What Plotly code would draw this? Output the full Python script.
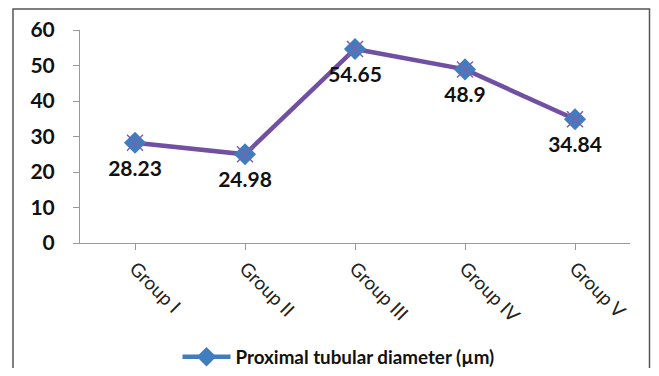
import plotly.graph_objects as go

categories = ["Group I", "Group II", "Group III", "Group IV", "Group V"]
values = [28.23, 24.98, 54.65, 48.9, 34.84]
value_labels = ["28.23", "24.98", "54.65", "48.9", "34.84"]
y_ticks = [0, 10, 20, 30, 40, 50, 60]
series_name = "Proximal tubular diameter (µm)"

xi = list(range(len(categories)))

fig = go.Figure()
# line
fig.add_trace(go.Scatter(
    x=xi, y=values, mode="lines",
    line=dict(color="#7150A3", width=4.5),
    showlegend=False, hoverinfo="skip",
))
# data labels (on an invisible wide marker to push them below the points)
fig.add_trace(go.Scatter(
    x=xi, y=values, mode="markers+text",
    marker=dict(symbol="circle", size=26, color="rgba(0,0,0,0)"),
    text=value_labels, textposition="bottom center",
    textfont=dict(family="Lato", size=21, color="#111111", weight="bold"),
    showlegend=False, hoverinfo="skip",
))
# blue diamond markers
fig.add_trace(go.Scatter(
    x=xi, y=values, mode="markers",
    marker=dict(symbol="diamond", size=17, color="#3F7DC0"),
    showlegend=False,
))
# purple x overlay
fig.add_trace(go.Scatter(
    x=xi, y=values, mode="markers",
    marker=dict(symbol="x-thin", size=16, line=dict(color="#8060A8", width=1.5)),
    showlegend=False, hoverinfo="skip",
))
# legend entry
fig.add_trace(go.Scatter(
    x=[None], y=[None], mode="lines+markers", name=series_name,
    line=dict(color="#3F7DC0", width=4.5),
    marker=dict(symbol="diamond", size=15, color="#3F7DC0"),
))

OFF = 8  # page body margin
W, H = 659 - 2 * OFF, 376 - 2 * OFF
L, T = 80 - OFF, 30 - OFF
pw, ph = 550, 213
R = W - L - pw
B = H - T - ph

fig.add_shape(type="rect", xref="paper", yref="paper",
              x0=(13 - OFF - L) / pw, x1=(W - 1.5 - L) / pw,
              y0=-(H + 10 - T - ph) / ph, y1=(T + ph - 1) / ph,
              line=dict(color="#555555", width=1.5), layer="below")

fig.update_layout(
    width=W, height=H,
    margin=dict(l=L, r=R, t=T, b=B, autoexpand=False),
    paper_bgcolor="white", plot_bgcolor="white",
    legend=dict(orientation="h", x=0.47, xanchor="center", y=-0.535, yanchor="middle",
                font=dict(family="Lato", size=18.8, color="#111111", weight="bold"),
                itemwidth=48, bgcolor="rgba(0,0,0,0)"),
    xaxis=dict(
        range=[-0.5, 4.5], tickvals=xi, ticktext=categories,
        tickangle=45, tickson="boundaries", ticks="outside", ticklen=6,
        tickcolor="#999999", showline=True, linecolor="#999999", linewidth=1,
        showgrid=False, zeroline=False, automargin=False,
        tickfont=dict(family="Lato", size=19, color="#222222"),
    ),
    yaxis=dict(
        range=[0, 60], tickvals=y_ticks, ticks="outside", ticklen=6,
        tickcolor="#999999", showline=True, linecolor="#999999", linewidth=1,
        showgrid=False, zeroline=False, ticklabelstandoff=14, automargin=False,
        tickfont=dict(family="Lato", size=21, color="#111111", weight="bold"),
    ),
)

fig.write_html("out.html")
